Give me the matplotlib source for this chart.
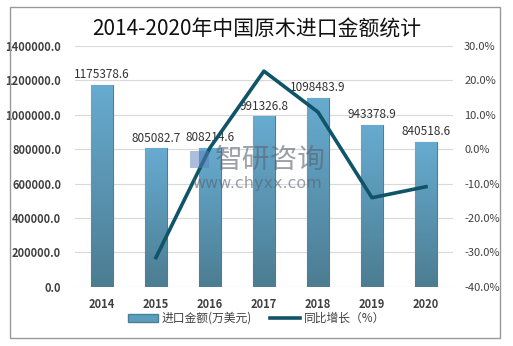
import matplotlib.pyplot as plt
import matplotlib.patches as mpatches
import numpy as np
from matplotlib.colors import LinearSegmentedColormap

plt.rcParams['font.family'] = ['Noto Sans CJK SC', 'DejaVu Sans']

years = ["2014", "2015", "2016", "2017", "2018", "2019", "2020"]
amount = [1175378.6, 805082.7, 808214.6, 991326.8, 1098483.9, 943378.9, 840518.6]
growth = [np.nan, -31.5, 0.4, 22.7, 10.8, -14.1, -10.9]

fig = plt.figure(figsize=(5.13, 3.46), dpi=100)
ax = fig.add_axes([0.146, 0.171, 0.737, 0.696])
ax2 = ax.twinx()

x = np.arange(len(years))
bars = ax.bar(x, amount, width=0.4, color="#5c9dbd", edgecolor="#4a7f98", linewidth=0.8, zorder=2)

# vertical gradient inside each bar
grad = np.linspace(0, 1, 100).reshape(-1, 1)
cmap = LinearSegmentedColormap.from_list("b", ["#4c7d92", "#67abd0"])
for b in bars:
    bx, by = b.get_x(), b.get_y()
    w, h = b.get_width(), b.get_height()
    im = ax.imshow(grad, extent=[bx, bx + w, by, by + h], origin="lower", cmap=cmap,
                   aspect="auto", zorder=2.5)
    im.set_clip_path(b)

for xi, v in zip(x, amount):
    ax.text(xi, v + 22000, f"{v:.1f}", ha="center", va="bottom", fontsize=8.5, color="#333333", zorder=5)

ax.set_xlim(-0.5, 6.5)
ax.set_ylim(0, 1400000)
ax.set_yticks(np.arange(0, 1400001, 200000))
ax.set_yticklabels([f"{v:.1f}" for v in np.arange(0, 1400001, 200000)])
ax.set_xticks(x)
ax.set_xticklabels(years, fontweight="bold")
ax.grid(axis="y", color="#d9d9d9", linewidth=0.8, zorder=0)
ax.set_axisbelow(True)

ax2.plot(x, growth, color="#0f5468", linewidth=2.6, zorder=4)
ax2.set_ylim(-40, 30)
ax2.set_yticks(np.arange(-40, 31, 10))
ax2.set_yticklabels([f"{v:.1f}%" for v in np.arange(-40, 31, 10)])
ax2.set_zorder(ax.get_zorder() + 1)
ax2.patch.set_visible(False)

for a in (ax, ax2):
    for s in a.spines.values():
        s.set_visible(False)
    a.tick_params(length=0, labelsize=8, colors="#404040")
ax.tick_params(axis="y", pad=10)
ax.tick_params(axis="x", pad=8)
ax2.tick_params(axis="y", pad=8)
for t in ax.get_yticklabels():
    t.set_fontweight("bold")

fig.text(0.5, 0.915, "2014-2020年中国原木进口金额统计", ha="center", va="center",
         fontsize=15, fontweight="medium", color="#111111")

# watermark
fig.text(0.528, 0.538, "智研咨询", ha="center", va="center", fontsize=20, color="#5a6370", alpha=0.6, zorder=10)
fig.text(0.501, 0.471, "www.chyxx.com", ha="center", va="center", fontsize=11.5, color="#5a6370",
         alpha=0.6, zorder=10, family="DejaVu Sans")
fig.add_artist(mpatches.Rectangle((0.370, 0.515), 0.038, 0.05, transform=fig.transFigure,
                                  facecolor="#5b7fb8", alpha=0.5, edgecolor="none", zorder=10))

handles = [mpatches.Patch(facecolor="#5c9dbd", edgecolor="#4a7f98", label="进口金额(万美元)"),
           plt.Line2D([], [], color="#0f5468", linewidth=2.6, label="同比增长（%）")]
fig.legend(handles=handles, loc="center", bbox_to_anchor=(0.5, 0.08), ncol=2, frameon=False,
           fontsize=8.5, handlelength=2.6, handleheight=0.7, columnspacing=1.5, handletextpad=0.3,
           labelcolor="#404040")

fig.add_artist(mpatches.Rectangle((0.02, 0.023), 0.955, 0.957, transform=fig.transFigure,
                                  fill=False, edgecolor="#999999", linewidth=1))

fig.savefig("out.png", dpi=100)
